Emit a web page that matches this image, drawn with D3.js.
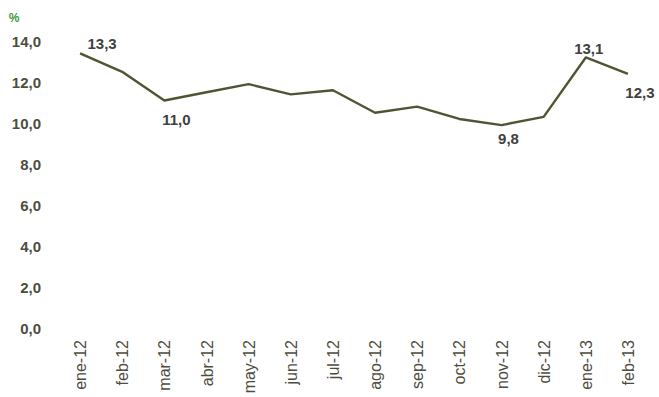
<!DOCTYPE html>
<html>
<head>
<meta charset="utf-8">
<script src="https://cdn.jsdelivr.net/npm/d3@7"></script>
<style>
  html, body { margin: 0; padding: 0; background: #ffffff; }
  svg { display: block; }
</style>
</head>
<body>
<script>
// Monthly rate, %
const months = ["ene-12","feb-12","mar-12","abr-12","may-12","jun-12","jul-12",
                "ago-12","sep-12","oct-12","nov-12","dic-12","ene-13","feb-13"];
const rates  = [13.3, 12.4, 11.0, 11.4, 11.8, 11.3, 11.5,
                10.4, 10.7, 10.1, 9.8, 10.2, 13.1, 12.3];
const yTicks = [0, 2, 4, 6, 8, 10, 12, 14];
// Points that carry a value label, with label placement
const labelled = [
  { i: 0,  dx: 22, dy: -10 },
  { i: 2,  dx: 12, dy: 19 },
  { i: 10, dx: 7,  dy: 14 },
  { i: 12, dx: 3,  dy: -9 },
  { i: 13, dx: 12, dy: 19 }
];

const W = 659, H = 397;
const fmt = v => v.toFixed(1).replace(".", ",");
const FONT = "'Liberation Sans', Arial, sans-serif";

const svg = d3.select("body").append("svg")
  .attr("width", W).attr("height", H);

const x = d3.scalePoint().domain(months).range([59, 649]).padding(0.5);
const y = d3.scaleLinear().domain([0, 14]).range([326, 39]);

// Y axis labels (no axis line or ticks)
const yAxis = d3.axisLeft(y).tickValues(yTicks).tickFormat(fmt).tickSize(0).tickPadding(0);
const gy = svg.append("g").attr("transform", "translate(41,3)").call(yAxis);
gy.select(".domain").remove();
gy.selectAll("text")
  .attr("fill", "#4d4d3f")
  .style("font-family", FONT)
  .style("font-weight", "bold")
  .style("font-size", "15px");

// X axis labels, rotated
const xAxis = d3.axisBottom(x).tickSize(0).tickPadding(0);
const gx = svg.append("g").attr("transform", "translate(0,340)").call(xAxis);
gx.select(".domain").remove();
gx.selectAll("text")
  .attr("transform", "rotate(-90)")
  .attr("text-anchor", "end")
  .attr("x", 0)
  .attr("y", 0)
  .attr("dy", "0.35em")
  .attr("fill", "#4d4d3f")
  .style("font-family", FONT)
  .style("font-size", "16px");

// Unit marker
svg.append("text")
  .attr("x", 14).attr("y", 22)
  .attr("text-anchor", "middle")
  .attr("fill", "#3d9a3d")
  .style("font-family", FONT)
  .style("font-weight", "bold")
  .style("font-size", "12px")
  .text("%");

// Series line
const line = d3.line()
  .x((d, i) => x(months[i]))
  .y(d => y(d));

svg.append("path")
  .datum(rates)
  .attr("d", line)
  .attr("fill", "none")
  .attr("stroke", "#4f5533")
  .attr("stroke-width", 2.4)
  .attr("stroke-linejoin", "round");

// Value labels
svg.append("g").selectAll("text")
  .data(labelled)
  .join("text")
  .attr("x", d => x(months[d.i]) + d.dx)
  .attr("y", d => y(rates[d.i]) + d.dy)
  .attr("text-anchor", "middle")
  .attr("dy", "0.35em")
  .attr("fill", "#404040")
  .style("font-family", FONT)
  .style("font-weight", "bold")
  .style("font-size", "15px")
  .text(d => fmt(rates[d.i]));
</script>
</body>
</html>
